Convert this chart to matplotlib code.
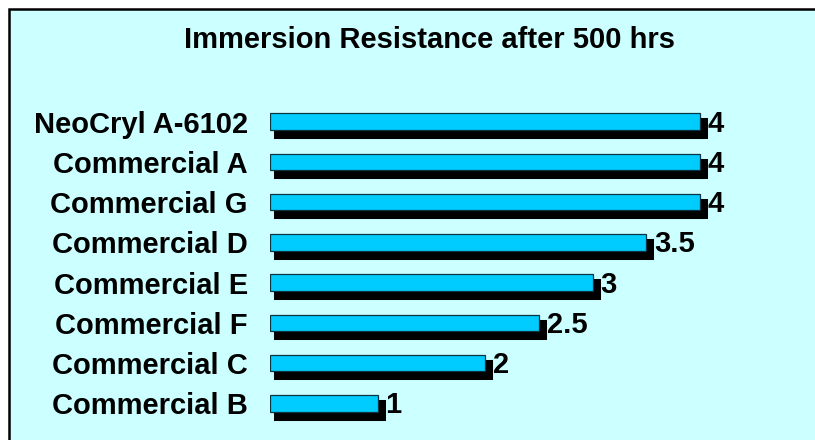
import matplotlib.pyplot as plt
from matplotlib.patches import Rectangle
import matplotlib.transforms as mtransforms

plt.rcParams.update({
    "font.family": ["Liberation Sans", "DejaVu Sans"],
    "font.weight": "bold",
})

BG = "#CCFFFF"
BAR = "#00CCFF"

# data
products = ["NeoCryl A-6102", "Commercial A", "Commercial G", "Commercial D",
            "Commercial E", "Commercial F", "Commercial C", "Commercial B"]
ratings = [4, 4, 4, 3.5, 3, 2.5, 2, 1]

W, H = 815, 440
fig = plt.figure(figsize=(W / 100, H / 100), dpi=100)
fig.patch.set_facecolor("white")

# chart area panel: left/top edges visible, right/bottom run past the image edge
fig.patches.append(Rectangle((8.7 / W, -0.5), 2.0, 1.5 - 8.7 / H,
                             transform=fig.transFigure, facecolor=BG,
                             edgecolor="black", linewidth=1.8, zorder=-10))

fig.text(430 / W, 1 - 40 / H, "Immersion Resistance after 500 hrs",
         ha="center", va="center", fontsize=21, fontweight="bold")

ax_top, ax_bot = 101.4, 423.6
ax = fig.add_axes([270 / W, 1 - ax_bot / H, 530 / W, (ax_bot - ax_top) / H])
ax.set_zorder(5)
ax.patch.set_alpha(0)

ypos = list(range(len(products)))

# drop shadows
shadow_tr = ax.transData + mtransforms.ScaledTranslation(6 / 100, -7 / 100, fig.dpi_scale_trans)
ax.barh(ypos, ratings, height=0.41, color="black", edgecolor="black",
        linewidth=2.9, transform=shadow_tr, zorder=1)

ax.barh(ypos, ratings, height=0.41, color=BAR, edgecolor="#0b3540",
        linewidth=0.9, zorder=2)

label_tr = ax.transData + mtransforms.ScaledTranslation(8 / 100, -2 / 100, fig.dpi_scale_trans)
for y, v in zip(ypos, ratings):
    ax.text(v, y, f"{v:g}", transform=label_tr, ha="left", va="center",
            fontsize=21, fontweight="bold", zorder=3)

ax.set_xlim(0, 530 / 107.5)
ax.set_ylim(len(products) - 0.5, -0.5)
ax.set_yticks(ypos)
ax.set_yticklabels(products, fontsize=21, fontweight="bold")
ax.tick_params(axis="y", length=0, pad=16)
ax.set_xticks([])
for s in ax.spines.values():
    s.set_visible(False)

fig.savefig("out.png", dpi=100)
